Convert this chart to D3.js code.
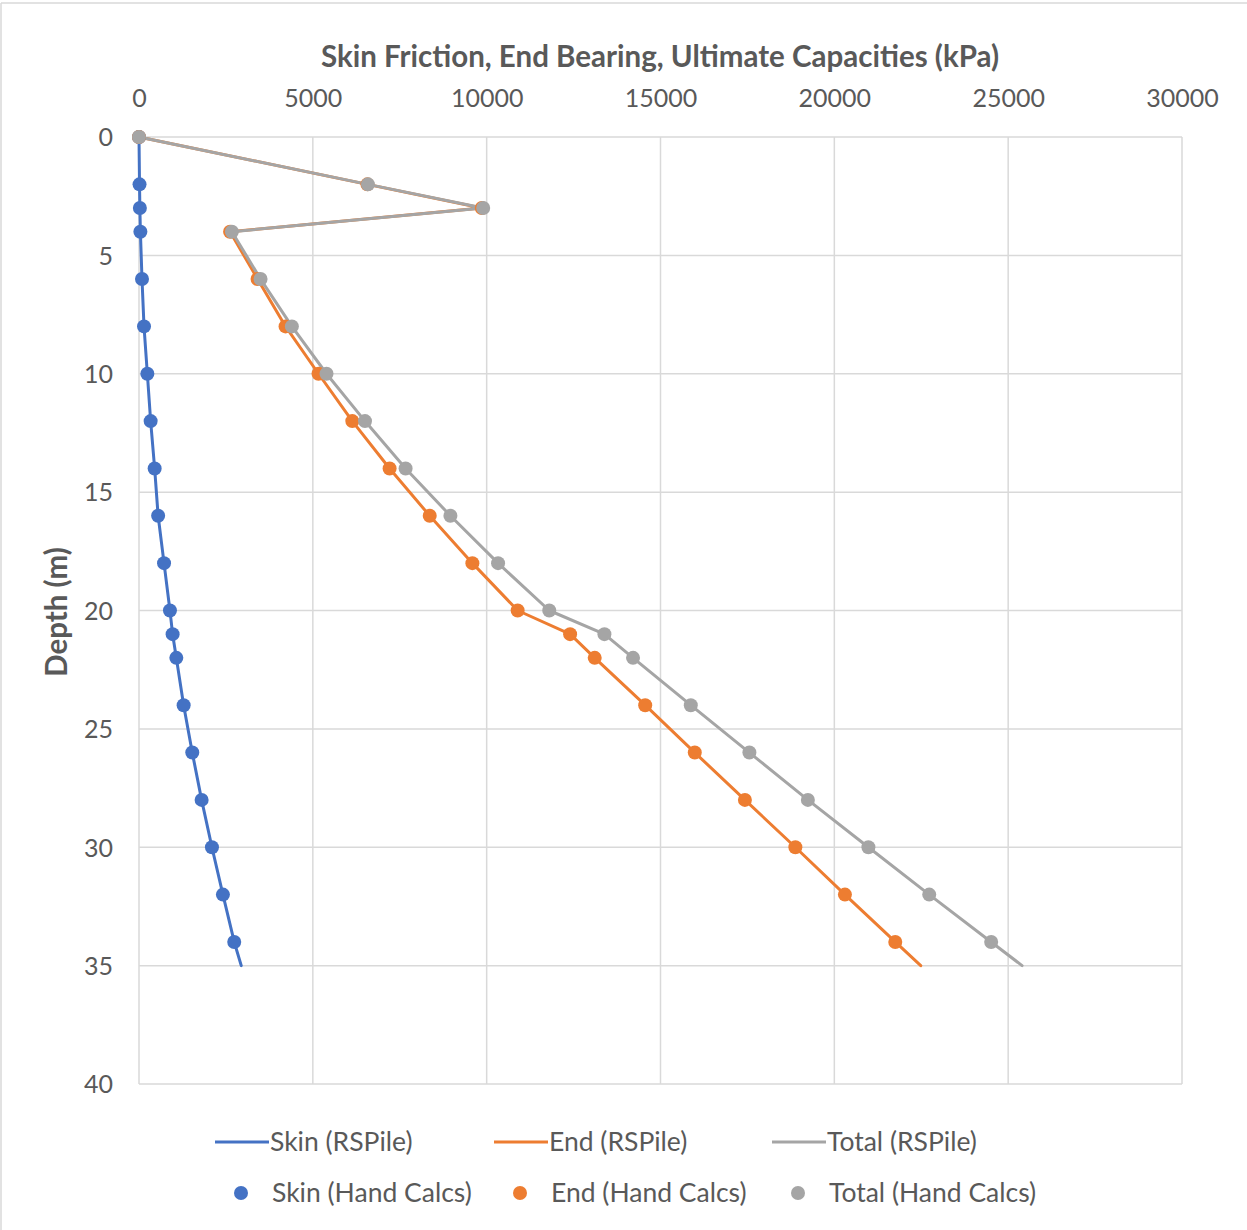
<!DOCTYPE html>
<html>
<head>
<meta charset="utf-8">
<script src="https://cdn.jsdelivr.net/npm/d3@7"></script>
<style>
  html, body { margin: 0; padding: 0; background: #fff; }
  svg { display: block; }
  text { font-family: Lato, "Open Sans", sans-serif; fill: #595959; }
</style>
</head>
<body>
<svg id="chart" width="1247" height="1230"></svg>
<script>
// ---- Data ----
const handDepths = [0, 2, 3, 4, 6, 8, 10, 12, 14, 16, 18, 20, 21, 22, 24, 26, 28, 30, 32, 34];
const skinHand  = [0, 15, 25, 40, 86, 144, 240, 335, 450, 550, 720, 890, 967, 1073, 1284, 1532, 1801, 2098, 2414, 2739];
const endHand   = [0, 6570, 9860, 2620, 3410, 4215, 5163, 6135, 7208, 8362, 9589, 10891, 12400, 13108, 14560, 15986, 17428, 18879, 20305, 21753];
const totalHand = [0, 6585, 9900, 2672, 3496, 4397, 5393, 6500, 7668, 8957, 10328, 11800, 13387, 14210, 15871, 17557, 19239, 20980, 22730, 24511];

const rsDepths  = [0, 2, 3, 4, 6, 8, 10, 12, 14, 16, 18, 20, 21, 22, 24, 26, 28, 30, 32, 34, 35];
const skinRS    = [0, 15, 25, 40, 86, 144, 240, 335, 450, 550, 720, 890, 967, 1073, 1284, 1532, 1801, 2098, 2414, 2739, 2941];
const endRS     = [0, 6570, 9860, 2620, 3410, 4215, 5163, 6135, 7208, 8362, 9589, 10891, 12400, 13108, 14560, 15986, 17428, 18879, 20305, 21753, 22486];
const totalRS   = [0, 6585, 9900, 2672, 3496, 4397, 5393, 6500, 7668, 8957, 10328, 11800, 13387, 14210, 15871, 17557, 19239, 20980, 22730, 24511, 25400];

const xTicks = [0, 5000, 10000, 15000, 20000, 25000, 30000];
const yTicks = [0, 5, 10, 15, 20, 25, 30, 35, 40];

const seriesNames = ["Skin", "End", "Total"];
const colors = ["#4472c4", "#ed7d31", "#a5a5a5"];

// ---- Layout ----
const svg = d3.select("#chart");
const plot = { left: 139, top: 137, right: 1182, bottom: 1084 };

const x = d3.scaleLinear().domain([0, 30000]).range([plot.left, plot.right]);
const y = d3.scaleLinear().domain([0, 40]).range([plot.top, plot.bottom]);

// outer chart border (top & left visible)
svg.append("line").attr("x1", 1).attr("x2", 1).attr("y1", 3).attr("y2", 1230)
  .attr("stroke", "#d9d9d9").attr("stroke-width", 1.5);
svg.append("line").attr("x1", 1).attr("x2", 1247).attr("y1", 3).attr("y2", 3)
  .attr("stroke", "#d9d9d9").attr("stroke-width", 1.5);

// gridlines
const grid = svg.append("g");
grid.selectAll("line.v").data(xTicks).join("line")
  .attr("x1", d => x(d)).attr("x2", d => x(d))
  .attr("y1", plot.top).attr("y2", plot.bottom)
  .attr("stroke", "#d9d9d9").attr("stroke-width", 1.5);
grid.selectAll("line.h").data(yTicks).join("line")
  .attr("x1", plot.left).attr("x2", plot.right)
  .attr("y1", d => y(d)).attr("y2", d => y(d))
  .attr("stroke", "#d9d9d9").attr("stroke-width", 1.5);

// axes (labels only)
const xAxis = d3.axisTop(x).tickValues(xTicks).tickSize(0).tickPadding(0).tickFormat(d3.format("d"));
const gx = svg.append("g").attr("transform", `translate(0,${plot.top - 30})`).call(xAxis);
gx.select(".domain").remove();
gx.selectAll("text").attr("font-size", 25).attr("fill", "#595959").style("font-family", "Lato, sans-serif");

const yAxis = d3.axisLeft(y).tickValues(yTicks).tickSize(0).tickPadding(0).tickFormat(d3.format("d"));
const gy = svg.append("g").attr("transform", `translate(${plot.left - 26},0)`).call(yAxis);
gy.select(".domain").remove();
gy.selectAll("text").attr("font-size", 25).attr("fill", "#595959").attr("dy", "0.35em").style("font-family", "Lato, sans-serif");

// axis titles
svg.append("text").attr("x", 660).attr("y", 57).attr("dy", "0.35em").attr("text-anchor", "middle")
  .attr("font-size", 29.5).attr("font-weight", "bold")
  .text("Skin Friction, End Bearing, Ultimate Capacities (kPa)");
svg.append("text").attr("transform", "translate(57,612) rotate(-90)").attr("dy", "0.35em").attr("text-anchor", "middle")
  .attr("font-size", 29.5).attr("font-weight", "bold")
  .text("Depth (m)");

// lines
const rsSeries = [skinRS, endRS, totalRS];
const handSeries = [skinHand, endHand, totalHand];
const line = d3.line().x(d => x(d[0])).y(d => y(d[1]));

rsSeries.forEach((vals, i) => {
  const pts = vals.map((v, j) => [v, rsDepths[j]]);
  svg.append("path").datum(pts).attr("d", line)
    .attr("fill", "none").attr("stroke", colors[i]).attr("stroke-width", 3)
    .attr("stroke-linejoin", "round").attr("stroke-linecap", "round");
});

handSeries.forEach((vals, i) => {
  const pts = vals.map((v, j) => [v, handDepths[j]]);
  svg.append("g").selectAll("circle").data(pts).join("circle")
    .attr("cx", d => x(d[0])).attr("cy", d => y(d[1])).attr("r", 7)
    .attr("fill", colors[i]);
});

// legend
const legend = svg.append("g");
const legX = [215, 494, 772];
seriesNames.forEach((n, i) => {
  legend.append("line").attr("x1", legX[i]).attr("x2", legX[i] + 54)
    .attr("y1", 1142).attr("y2", 1142).attr("stroke", colors[i]).attr("stroke-width", 3);
  legend.append("text").attr("x", legX[i] + 55).attr("y", 1142).attr("dy", "0.35em")
    .attr("font-size", 26.5).text(`${n} (RSPile)`);
  legend.append("circle").attr("cx", legX[i] + 26).attr("cy", 1193).attr("r", 7).attr("fill", colors[i]);
  legend.append("text").attr("x", legX[i] + 57).attr("y", 1193).attr("dy", "0.35em")
    .attr("font-size", 26.5).text(`${n} (Hand Calcs)`);
});
</script>
</body>
</html>
